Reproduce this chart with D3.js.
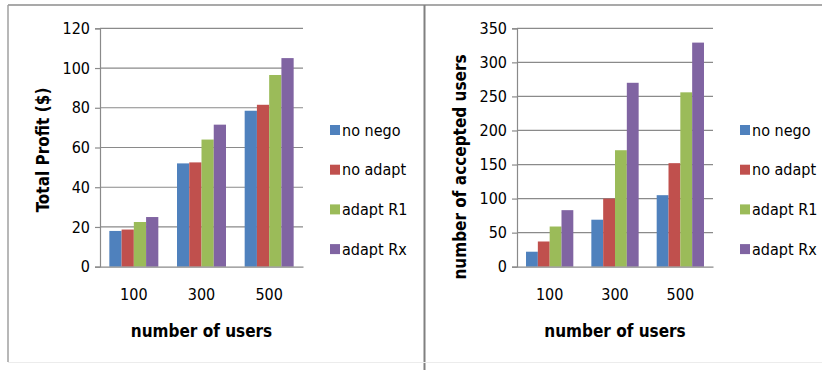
<!DOCTYPE html>
<html>
<head>
<meta charset="utf-8">
<script src="https://cdn.jsdelivr.net/npm/d3@7"></script>
<style>
  body { margin: 0; background: #fff; }
  svg text { font-family: "Liberation Sans Narrow", "DejaVu Sans Condensed", "Noto Sans", sans-serif; fill: #000; }
</style>
</head>
<body>
<svg id="chart" width="822" height="370"></svg>
<script>
// categories and series
var users = ["100", "300", "500"];
var seriesNames = ["no nego", "no adapt", "adapt R1", "adapt Rx"];
var colors = ["#4F81BD", "#C0504D", "#9BBB59", "#8064A2"];

// left chart: total profit
var profitNoNego = [18, 52, 78.5];
var profitNoAdapt = [18.7, 52.5, 81.5];
var profitAdaptR1 = [22.5, 64, 96.5];
var profitAdaptRx = [25, 71.5, 105];
var profitTicks = [0, 20, 40, 60, 80, 100, 120];

// right chart: accepted users
var acceptedNoNego = [22, 69, 105];
var acceptedNoAdapt = [37, 100, 152];
var acceptedAdaptR1 = [59, 171, 256];
var acceptedAdaptRx = [83, 270, 329];
var acceptedTicks = [0, 50, 100, 150, 200, 250, 300, 350];

var svg = d3.select("#chart");

// panel frame
svg.append("line").attr("x1", 8).attr("x2", 822).attr("y1", 5).attr("y2", 5)
  .attr("stroke", "#8c8c8c").attr("stroke-width", 1.5);
svg.append("line").attr("x1", 8).attr("x2", 8).attr("y1", 5).attr("y2", 362)
  .attr("stroke", "#a0a0a0").attr("stroke-width", 1.5);
svg.append("line").attr("x1", 424.5).attr("x2", 424.5).attr("y1", 5).attr("y2", 370)
  .attr("stroke", "#808080").attr("stroke-width", 2);
svg.append("line").attr("x1", 8).attr("x2", 822).attr("y1", 362.5).attr("y2", 362.5)
  .attr("stroke", "#ececec").attr("stroke-width", 1);

function drawChart(opts) {
  var x = d3.scaleBand().domain(users).range([opts.left, opts.right]);
  var pad = x.step() * 0.138;
  var xSub = d3.scaleBand().domain(seriesNames).range([pad, x.step() - pad]);
  var y = d3.scaleLinear().domain([0, opts.max]).range([266.7, 28.3]);

  // grid lines
  svg.append("g").selectAll("line").data(opts.ticks.slice(1)).enter().append("line")
    .attr("x1", opts.left).attr("x2", opts.right)
    .attr("y1", function(d) { return y(d); }).attr("y2", function(d) { return y(d); })
    .attr("stroke", "#8a8a8a").attr("stroke-width", 1.2);

  // y axis
  var yAxis = svg.append("g")
    .attr("transform", "translate(" + opts.left + ",0)")
    .call(d3.axisLeft(y).tickValues(opts.ticks).tickSize(5).tickPadding(5));
  yAxis.select(".domain").attr("stroke", "#8a8a8a").attr("stroke-width", 1.2);
  yAxis.selectAll(".tick line").attr("stroke", "#8a8a8a").attr("stroke-width", 1.2);
  yAxis.selectAll(".tick text").style("font-size", "16px");

  // bars
  var data = users.map(function(u, i) {
    return { cat: u, values: opts.series.map(function(s, j) { return { key: seriesNames[j], value: s[i], color: colors[j] }; }) };
  });
  svg.append("g").selectAll("g").data(data).enter().append("g")
    .attr("transform", function(d) { return "translate(" + x(d.cat) + ",0)"; })
    .selectAll("rect").data(function(d) { return d.values; }).enter().append("rect")
    .attr("x", function(d) { return xSub(d.key); })
    .attr("y", function(d) { return y(d.value); })
    .attr("width", xSub.bandwidth())
    .attr("height", function(d) { return y(0) - y(d.value); })
    .attr("fill", function(d) { return d.color; });

  // x axis
  var xAxis = svg.append("g")
    .attr("transform", "translate(0,266.7)")
    .call(d3.axisBottom(x).tickSize(0).tickPadding(22));
  xAxis.select(".domain").attr("stroke", "#8a8a8a").attr("stroke-width", 1.2);
  xAxis.selectAll(".tick text").style("font-size", "16px");

  // axis titles
  svg.append("text")
    .attr("x", (opts.left + opts.right) / 2).attr("y", 337)
    .attr("text-anchor", "middle")
    .style("font-size", "17px").style("font-weight", "bold")
    .text("number of users");
  svg.append("text")
    .attr("transform", "translate(" + opts.titleX + "," + opts.titleY + ") rotate(-90)")
    .attr("text-anchor", "middle")
    .style("font-size", "17px").style("font-weight", "bold")
    .text(opts.title);

  // legend
  var legend = svg.append("g").selectAll("g").data(seriesNames).enter().append("g")
    .attr("transform", function(d, i) { return "translate(" + opts.legendX + "," + (130 + i * 39.7) + ")"; });
  legend.append("rect").attr("x", 0).attr("y", -5).attr("width", 10).attr("height", 10)
    .attr("fill", function(d, i) { return colors[i]; });
  legend.append("text").attr("x", 12).attr("y", 5.5)
    .style("font-size", "16px")
    .text(function(d) { return d; });
}

drawChart({
  left: 100, right: 303, max: 120, ticks: profitTicks,
  series: [profitNoNego, profitNoAdapt, profitAdaptR1, profitAdaptRx],
  title: "Total Profit ($)", titleX: 49, titleY: 150, legendX: 330
});

drawChart({
  left: 517, right: 713, max: 350, ticks: acceptedTicks,
  series: [acceptedNoNego, acceptedNoAdapt, acceptedAdaptR1, acceptedAdaptRx],
  title: "number of accepted users", titleX: 466, titleY: 167, legendX: 740
});
</script>
</body>
</html>
